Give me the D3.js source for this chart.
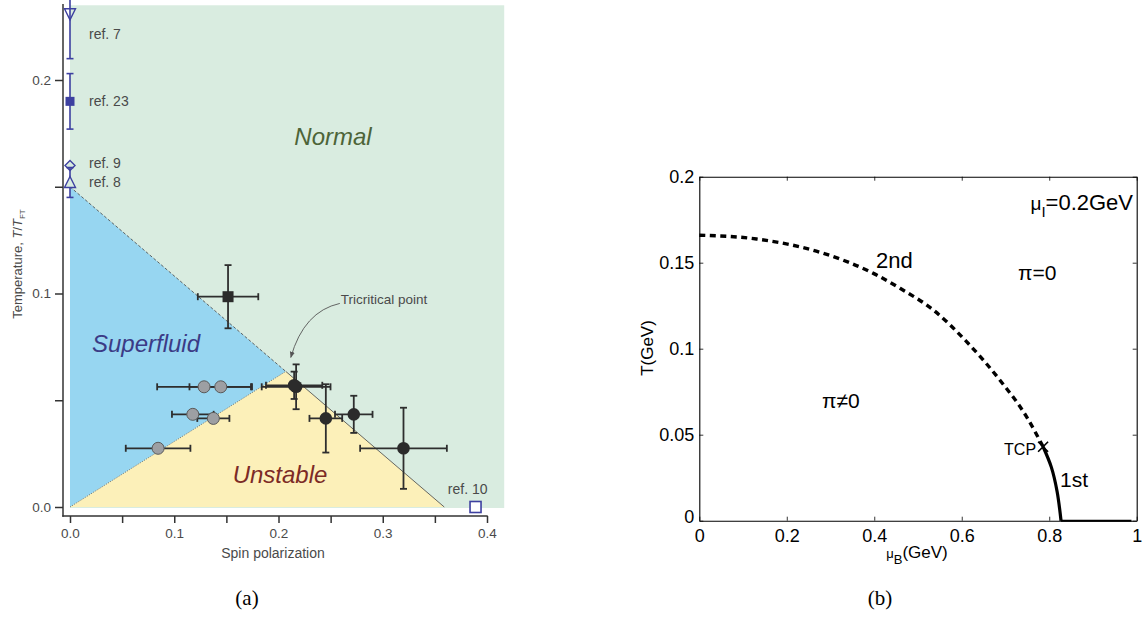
<!DOCTYPE html>
<html lang="en">
<head>
<meta charset="UTF-8">
<title>Phase diagrams</title>
<style>
  body { margin: 0; background: #fff; overflow: hidden; }
  svg { display: block; }
  .pa text { font-family: "Liberation Sans", Arial, sans-serif; fill: #4a4a4a; }
  .pb text { font-family: "Liberation Sans", Arial, sans-serif; fill: #000; }
  .cap { font-family: "Liberation Serif", "DejaVu Serif", serif; font-size: 21px; fill: #000; }
</style>
</head>
<body>
<svg id="chart" width="1145" height="617"></svg>
<script src="https://d3js.org/d3.v7.min.js"></script>
<script>
// ---------- panel (a) data ----------
const aTicksY = [0, 0.05, 0.1, 0.15, 0.2];
const aTicksX = [0, 0.05, 0.1, 0.15, 0.2, 0.25, 0.3, 0.35, 0.4];
const aRegionExtent = [0.4165, 0.235];      // right / top of the shaded area
const aNormalStart = [0, 0.15];
const aTcp = [0.207, 0.0635];
const aUnstableEnd = [0.359, 0];

const refNames  = ["ref. 7", "ref. 23", "ref. 9", "ref. 8", "ref. 10"];
const refX      = [0, 0, 0, 0, 0.389];
const refY      = [0.231, 0.190, 0.160, 0.152, 0];
const refYErr   = [0.021, 0.013, 0, 0.007, 0];
const refLabelY = [0.2215, 0.190, 0.161, 0.152, 0.0085];
const refShapes = ["triDown", "squareFilled", "diamond", "triUp", "square"];

const grayX    = [0.1286, 0.1446, 0.1178, 0.1375, 0.0845];
const grayY    = [0.0563, 0.0563, 0.0434, 0.0415, 0.0275];
const grayXErr = [0.045, 0.030, 0.020, 0.0154, 0.031];

const blackX    = [0.2169, 0.2150, 0.2454, 0.2722, 0.3199];
const blackY    = [0.0563, 0.0570, 0.0415, 0.0434, 0.0275];
const blackXErr = [0.033, 0.027, 0.0157, 0.018, 0.0416];
const blackYErr = [0.0105, 0.0064, 0.016, 0.0087, 0.019];

const sqX = [0.1516], sqY = [0.0985], sqXErr = [0.029], sqYErr = [0.0148];

// ---------- panel (b) data ----------
const bTicksX = [0, 0.2, 0.4, 0.6, 0.8, 1];
const bTicksY = [0, 0.05, 0.1, 0.15, 0.2];
const secondMu = [0, 0.131, 0.283, 0.398, 0.459, 0.535, 0.611, 0.687, 0.748, 0.786];
const secondT  = [0.166, 0.1638, 0.1555, 0.1438, 0.1351, 0.1225, 0.1041, 0.0818, 0.0605, 0.043];
const firstMu  = [0.786, 0.805, 0.818, 0.827];
const firstT   = [0.043, 0.031, 0.017, 0];
const zeroMu   = [0.827, 0.988];
const zeroT    = [0, 0];
const bTcp     = [0.786, 0.043];

const svg = d3.select("#chart");

// =================== panel (a) ===================
const pa = svg.append("g").attr("class", "pa");
const xa = d3.scaleLinear().domain([0, 0.4]).range([70, 487]);
const ya = d3.scaleLinear().domain([0, 0.2]).range([507, 80]);
const pt = p => [xa(p[0]), ya(p[1])];

// regions
pa.append("rect")
  .attr("x", xa(0)).attr("y", ya(aRegionExtent[1]))
  .attr("width", xa(aRegionExtent[0]) - xa(0))
  .attr("height", ya(0) - ya(aRegionExtent[1]) + 1)
  .attr("fill", "#d9ece0");
pa.append("polygon")
  .attr("points", [aNormalStart, aTcp, [0, 0]].map(pt).join(" "))
  .attr("fill", "#97d6f1");
pa.append("polygon")
  .attr("points", [[0, 0], aTcp, aUnstableEnd].map(pt).join(" "))
  .attr("fill", "#fcf0b9");

// boundaries
pa.append("line")
  .attr("x1", xa(aNormalStart[0])).attr("y1", ya(aNormalStart[1]))
  .attr("x2", xa(aTcp[0])).attr("y2", ya(aTcp[1]))
  .attr("stroke", "#444").attr("stroke-width", 0.8).attr("stroke-dasharray", "3,2");
pa.append("line")
  .attr("x1", xa(0)).attr("y1", ya(0))
  .attr("x2", xa(aTcp[0])).attr("y2", ya(aTcp[1]))
  .attr("stroke", "#555").attr("stroke-width", 0.8).attr("stroke-dasharray", "1,1.5");
pa.append("line")
  .attr("x1", xa(aTcp[0])).attr("y1", ya(aTcp[1]))
  .attr("x2", xa(aUnstableEnd[0])).attr("y2", ya(aUnstableEnd[1]))
  .attr("stroke", "#444").attr("stroke-width", 0.8);

// axes
const axY = pa.append("g").attr("transform", "translate(63,0)")
  .call(d3.axisLeft(ya).tickValues(aTicksY).tickSize(8).tickPadding(4)
    .tickFormat(d => (Math.round(d * 100) % 10 === 0) ? d3.format(".1f")(d) : ""));
axY.select(".domain").remove();
const axX = pa.append("g").attr("transform", "translate(0,516)")
  .call(d3.axisBottom(xa).tickValues(aTicksX).tickSize(7).tickPadding(5)
    .tickFormat(d => (Math.round(d * 100) % 10 === 0) ? d3.format(".1f")(d) : ""));
axX.select(".domain").remove();
pa.selectAll(".tick line").attr("stroke", "#333").attr("stroke-width", 1.5);
pa.selectAll(".tick text").attr("font-size", 13.5).attr("fill", "#4a4a4a")
  .attr("font-family", "Liberation Sans, Arial, sans-serif");
pa.append("line").attr("x1", 63).attr("x2", 63).attr("y1", 4).attr("y2", 516.7)
  .attr("stroke", "#333").attr("stroke-width", 1.5);
pa.append("line").attr("x1", 62.3).attr("x2", 487.7).attr("y1", 516).attr("y2", 516)
  .attr("stroke", "#333").attr("stroke-width", 1.5);

// axis labels
pa.append("text").attr("x", 273).attr("y", 558).attr("text-anchor", "middle")
  .attr("font-size", 14).text("Spin polarization");
const yl = pa.append("text").attr("transform", "translate(22,264) rotate(-90)")
  .attr("text-anchor", "middle").attr("font-size", 13);
yl.append("tspan").text("Temperature, ");
yl.append("tspan").attr("font-style", "italic").text("T");
yl.append("tspan").text("/");
yl.append("tspan").attr("font-style", "italic").text("T");
yl.append("tspan").attr("font-size", 8).attr("dy", 3).text("FT");

// region names
pa.append("text").attr("x", 333).attr("y", 145).attr("text-anchor", "middle")
  .attr("font-size", 24).attr("font-style", "italic").style("fill", "#4d6438").text("Normal");
pa.append("text").attr("x", 146).attr("y", 352).attr("text-anchor", "middle")
  .attr("font-size", 24).attr("font-style", "italic").style("fill", "#3b3b86").text("Superfluid");
pa.append("text").attr("x", 280).attr("y", 483).attr("text-anchor", "middle")
  .attr("font-size", 24).attr("font-style", "italic").style("fill", "#7c2b26").text("Unstable");

// tricritical annotation
pa.append("defs").append("marker")
  .attr("id", "ah").attr("viewBox", "0 0 10 10").attr("refX", 9).attr("refY", 5)
  .attr("markerWidth", 7).attr("markerHeight", 7).attr("orient", "auto")
  .append("path").attr("d", "M0,1 L10,5 L0,9 z").attr("fill", "#555");
const [tx, ty] = pt(aTcp);
pa.append("path")
  .attr("d", `M${tx + 54},${ty - 68} Q${tx + 18},${ty - 60} ${tx + 5},${ty - 14}`)
  .attr("fill", "none").attr("stroke", "#555").attr("stroke-width", 0.9)
  .attr("marker-end", "url(#ah)");
pa.append("text").attr("x", tx + 55).attr("y", ty - 67).attr("font-size", 13.5)
  .text("Tricritical point");

// reference markers (blue)
const blue = "#3d40a0";
refNames.forEach((name, i) => {
  const cx = xa(refX[i]), cy = ya(refY[i]);
  const g = pa.append("g");
  if (refYErr[i] > 0) {
    const y1 = ya(refY[i] + refYErr[i]), y2 = ya(refY[i] - refYErr[i]);
    g.append("line").attr("x1", cx).attr("x2", cx).attr("y1", Math.max(y1, 0)).attr("y2", y2)
      .attr("stroke", blue).attr("stroke-width", 1.6);
    [y1, y2].forEach(yy => {
      if (yy > 2) g.append("line").attr("x1", cx - 3.5).attr("x2", cx + 3.5).attr("y1", yy).attr("y2", yy)
        .attr("stroke", blue).attr("stroke-width", 1.6);
    });
  }
  const s = refShapes[i];
  if (s === "triDown") {
    g.append("path").attr("d", `M${cx - 5.5},${cy - 5} L${cx + 5.5},${cy - 5} L${cx},${cy + 6} Z`)
      .attr("fill", "none").attr("stroke", blue).attr("stroke-width", 1.4);
  } else if (s === "triUp") {
    g.append("path").attr("d", `M${cx - 5.5},${cy + 5} L${cx + 5.5},${cy + 5} L${cx},${cy - 6} Z`)
      .attr("fill", "#d9ece0").attr("stroke", blue).attr("stroke-width", 1.4);
  } else if (s === "diamond") {
    g.append("path").attr("d", `M${cx},${cy - 5} L${cx + 5},${cy} L${cx},${cy + 5} L${cx - 5},${cy} Z`)
      .attr("fill", "#d9ece0").attr("stroke", blue).attr("stroke-width", 1.4);
  } else if (s === "squareFilled") {
    g.append("rect").attr("x", cx - 4.5).attr("y", cy - 4.5).attr("width", 9).attr("height", 9)
      .attr("fill", blue);
  } else {
    g.append("rect").attr("x", cx - 5.5).attr("y", cy - 5.5).attr("width", 11).attr("height", 11)
      .attr("fill", "#fff").attr("stroke", blue).attr("stroke-width", 1.6);
  }
  const ly = ya(refLabelY[i]);
  if (s === "square") {
    g.append("text").attr("x", cx + 12).attr("y", ly + 5).attr("text-anchor", "end")
      .attr("font-size", 14).text(name);
  } else {
    g.append("text").attr("x", cx + 19).attr("y", ly + 5).attr("font-size", 14).text(name);
  }
});

// experimental points with error bars
function errorBars(x, y, xe, ye) {
  const g = pa.append("g").attr("stroke", "#2e2e2e").attr("stroke-width", 1.8);
  x.forEach((v, i) => {
    const cx = xa(v), cy = ya(y[i]);
    if (xe && xe[i]) {
      const a = xa(v - xe[i]), b = xa(v + xe[i]);
      g.append("line").attr("x1", a).attr("x2", b).attr("y1", cy).attr("y2", cy);
      [a, b].forEach(xx => g.append("line").attr("x1", xx).attr("x2", xx).attr("y1", cy - 3.5).attr("y2", cy + 3.5));
    }
    if (ye && ye[i]) {
      const a = ya(y[i] + ye[i]), b = ya(y[i] - ye[i]);
      g.append("line").attr("x1", cx).attr("x2", cx).attr("y1", a).attr("y2", b);
      [a, b].forEach(yy => g.append("line").attr("x1", cx - 3.5).attr("x2", cx + 3.5).attr("y1", yy).attr("y2", yy));
    }
  });
}
errorBars(grayX, grayY, grayXErr, null);
errorBars(blackX, blackY, blackXErr, blackYErr);
errorBars(sqX, sqY, sqXErr, sqYErr);

pa.append("g").selectAll("circle").data(grayX).join("circle")
  .attr("cx", d => xa(d)).attr("cy", (d, i) => ya(grayY[i])).attr("r", 6)
  .attr("fill", "#9d9fa3").attr("stroke", "#5a5a5a").attr("stroke-width", 1);
pa.append("g").selectAll("circle").data(blackX).join("circle")
  .attr("cx", d => xa(d)).attr("cy", (d, i) => ya(blackY[i])).attr("r", 6.3)
  .attr("fill", "#2b2b2b");
pa.append("g").selectAll("rect").data(sqX).join("rect")
  .attr("x", d => xa(d) - 5.5).attr("y", (d, i) => ya(sqY[i]) - 5.5)
  .attr("width", 11).attr("height", 11).attr("fill", "#2b2b2b");

svg.append("text").attr("class", "cap").attr("x", 247).attr("y", 605)
  .attr("text-anchor", "middle").text("(a)");

// =================== panel (b) ===================
const pb = svg.append("g").attr("class", "pb");
const xb = d3.scaleLinear().domain([0, 1]).range([699.3, 1136.7]);
const yb = d3.scaleLinear().domain([0, 0.2]).range([520.7, 176.7]);
const fmtB = d => d === 0 || d === 1 ? String(d) : String(+d.toFixed(2));

const bx = pb.append("g").attr("transform", `translate(0,${yb(0)})`)
  .call(d3.axisBottom(xb).tickValues(bTicksX).tickSizeInner(-4).tickSizeOuter(0).tickPadding(9).tickFormat(fmtB));
const bxt = pb.append("g").attr("transform", `translate(0,${yb(0.2)})`)
  .call(d3.axisTop(xb).tickValues(bTicksX).tickSizeInner(-4).tickSizeOuter(0).tickFormat(""));
const by = pb.append("g").attr("transform", `translate(${xb(0)},0)`)
  .call(d3.axisLeft(yb).tickValues(bTicksY).tickSizeInner(-4).tickSizeOuter(0).tickPadding(5).tickFormat(fmtB));
const byr = pb.append("g").attr("transform", `translate(${xb(1)},0)`)
  .call(d3.axisRight(yb).tickValues(bTicksY).tickSizeInner(-4).tickSizeOuter(0).tickFormat(""));
[bx, bxt, by, byr].forEach(a => {
  a.select(".domain").attr("stroke", "#000").attr("stroke-width", 1.1);
  a.selectAll(".tick line").attr("stroke", "#000").attr("stroke-width", 0.8);
  a.selectAll(".tick text").attr("font-size", 18).attr("fill", "#000")
    .attr("font-family", "Liberation Sans, Arial, sans-serif");
});
by.selectAll(".tick text").filter(d => d === 0).attr("dy", "0.1em");

const line = d3.line().x(d => xb(d[0])).y(d => yb(d[1])).curve(d3.curveMonotoneX);
pb.append("path").datum(secondMu.map((m, i) => [m, secondT[i]]))
  .attr("d", line).attr("fill", "none").attr("stroke", "#000")
  .attr("stroke-width", 3.4).attr("stroke-dasharray", "6,4.5");
pb.append("path").datum(firstMu.map((m, i) => [m, firstT[i]]))
  .attr("d", d3.line().x(d => xb(d[0])).y(d => yb(d[1])).curve(d3.curveCatmullRom))
  .attr("fill", "none").attr("stroke", "#000").attr("stroke-width", 3.2);
pb.append("path").datum(zeroMu.map((m, i) => [m, zeroT[i]]))
  .attr("d", d3.line().x(d => xb(d[0])).y(d => yb(d[1])))
  .attr("fill", "none").attr("stroke", "#000").attr("stroke-width", 2);

// TCP cross
const [cx2, cy2] = [xb(bTcp[0]), yb(bTcp[1])];
pb.append("path").attr("d", `M${cx2 - 5},${cy2 - 5} L${cx2 + 5},${cy2 + 5} M${cx2 - 5},${cy2 + 5} L${cx2 + 5},${cy2 - 5}`)
  .attr("stroke", "#000").attr("stroke-width", 1.6);
pb.append("text").attr("x", cx2 - 7).attr("y", cy2 + 8).attr("text-anchor", "end")
  .attr("font-size", 16).text("TCP");

pb.append("text").attr("x", 876).attr("y", 268).attr("font-size", 22).text("2nd");
pb.append("text").attr("x", 1060).attr("y", 487).attr("font-size", 21).text("1st");
pb.append("text").attr("x", 822).attr("y", 408).attr("font-size", 21).text("π≠0");
pb.append("text").attr("x", 1018).attr("y", 280).attr("font-size", 21).text("π=0");
const mu = pb.append("text").attr("x", 1133).attr("y", 210).attr("text-anchor", "end").attr("font-size", 22);
mu.append("tspan").attr("font-size", 19).text("μ");
mu.append("tspan").attr("font-size", 15).attr("dy", 7).text("I");
mu.append("tspan").attr("dy", -7).text("=0.2GeV");

const xl = pb.append("text").attr("x", 917).attr("y", 558).attr("text-anchor", "middle").attr("font-size", 17);
xl.append("tspan").attr("font-size", 13).text("μ");
xl.append("tspan").attr("font-size", 13).attr("dy", 6).text("B");
xl.append("tspan").attr("dy", -6).text("(GeV)");
pb.append("text").attr("transform", "translate(653,348) rotate(-90)").attr("text-anchor", "middle")
  .attr("font-size", 17).text("T(GeV)");

svg.append("text").attr("class", "cap").attr("x", 880).attr("y", 605)
  .attr("text-anchor", "middle").text("(b)");
</script>
</body>
</html>
